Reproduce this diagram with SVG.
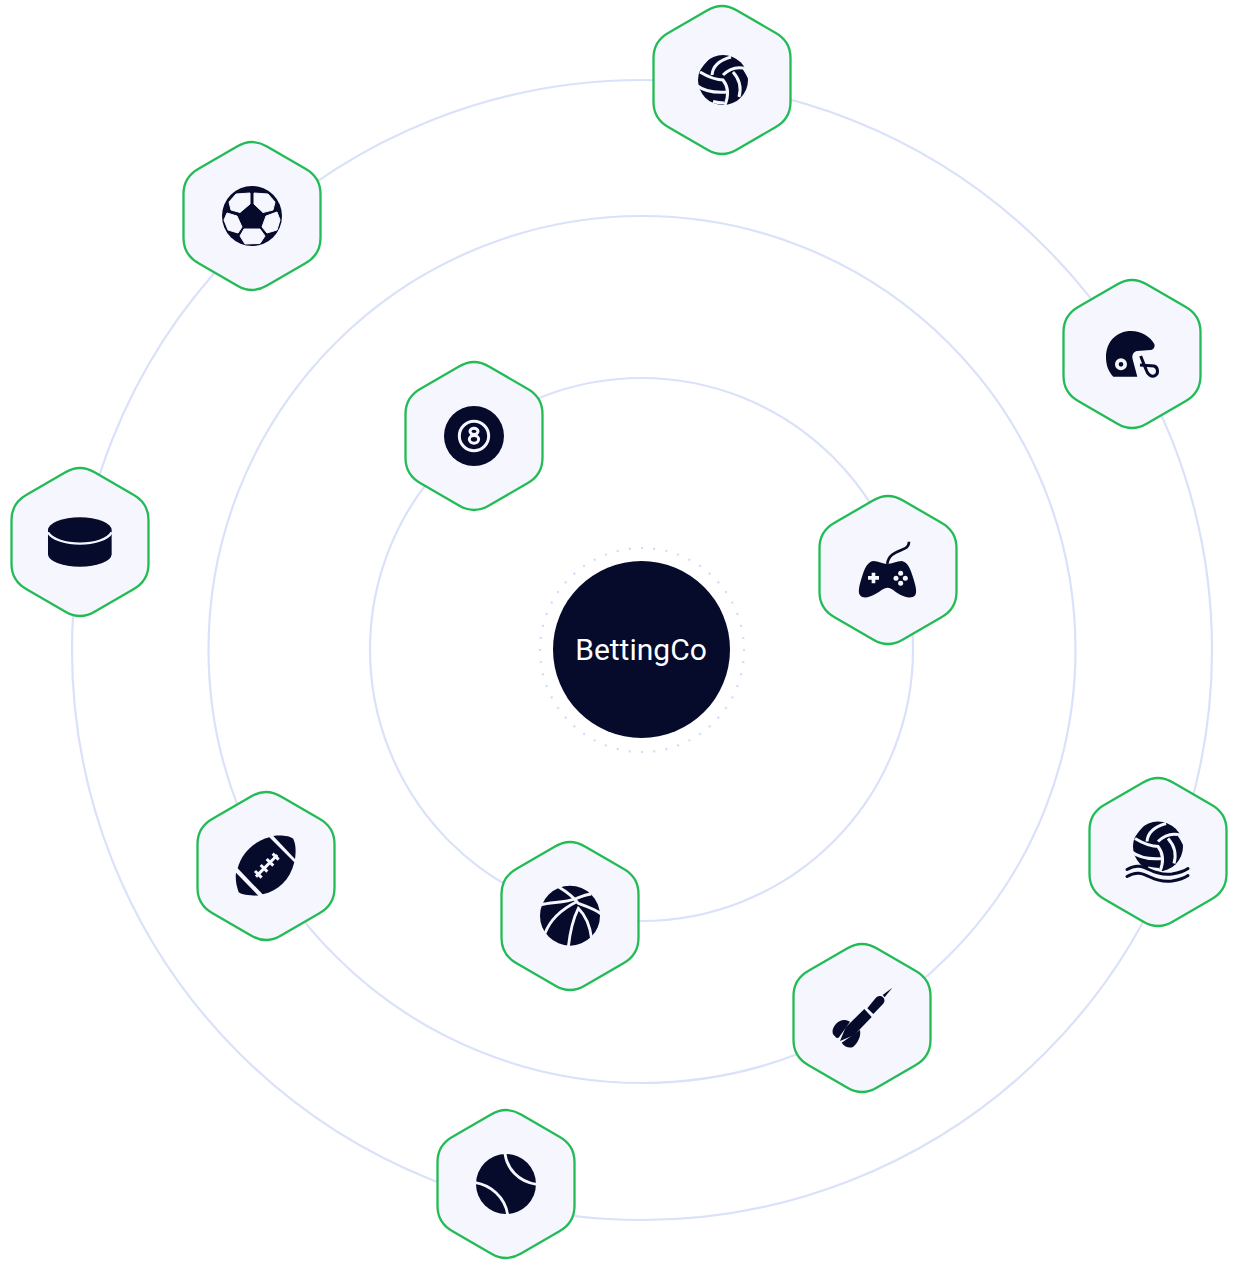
<svg xmlns="http://www.w3.org/2000/svg" width="1238" height="1264" viewBox="0 0 1238 1264">
<style>
.ring{fill:none;stroke:#dae2fa;stroke-width:2.200}
.hex{fill:#f5f6fe;stroke:#22bb55;stroke-width:2.300}
.ink{fill:#060a2b}
.seam{fill:none;stroke:#f5f6fe;stroke-linecap:butt}
.label{font-family:Roboto,"Liberation Sans",sans-serif;font-size:30px;fill:#fff;text-anchor:middle}
</style>
<defs>
<path id="hexagon" class="hex" d="M-15,-69.5Q0,-78.5 15,-69.5L53,-47.5Q68.5,-39 68.5,-22L68.5,22Q68.5,39 53,47.5L15,69.5Q0,78.5 -15,69.5L-53,47.5Q-68.5,39 -68.5,22L-68.5,-22Q-68.5,-39 -53,-47.5Z"/>
<g id="vball">
<circle class="ink" r="25"/>
<g class="seam" stroke-width="3">
<path d="M-14,-23Q-20,-17 -26,-8"/>
<path d="M-23,-8Q-10,0 1,0"/>
<path d="M-11,-5Q-10,-18 8,-23"/>
<path d="M0,-5Q9,-14 20,-12"/>
<path d="M0,0Q8,10 2,25"/>
<path d="M10,-8Q20,3 16,17"/>
<path d="M-27,5Q-15,14 5,12"/>
<path d="M-10,21.500Q-4,23 1,23"/>
<path d="M20,-13Q24,-7 26,-3"/>
</g>
</g>
</defs>

<g id="connectors">
<circle class="ring" cx="641.5" cy="649.5" r="271.5"/>
<circle class="ring" cx="642" cy="649.5" r="433.5"/>
<circle class="ring" cx="642" cy="650" r="570"/>
</g>

<g id="center">
<circle cx="642" cy="650" r="102" fill="none" stroke="#d3dcf9" stroke-width="2.200" pathLength="52" stroke-dasharray="0.17 0.83" stroke-dashoffset="0.085"/>
<circle class="ink" cx="641.5" cy="649.5" r="88.500"/>
<text class="label" x="641" y="660">BettingCo</text>
</g>

<g id="node-volleyball" transform="translate(722,80)">
<use href="#hexagon"/>
<use href="#vball" x="1"/>
</g>

<g id="node-soccer" transform="translate(252,216)">
<use href="#hexagon"/>
<circle class="ink" r="30"/>
<g fill="#f5f6fe" stroke="#f5f6fe" stroke-width="1" stroke-linejoin="round">
<path d="M-23,-14L-16,-22L-2,-23L-2,-12L-12,-3.500L-21,-6Z"/>
<path d="M2,-23L16,-22L23,-14L21,-6L11,-3.500L2,-12Z"/>
<path d="M-25,-3L-15,0L-10,11L-14,17L-24,14L-28,4Z"/>
<path d="M14,0L25,-4L28,4L25,14L15,17L10,11Z"/>
<path d="M-8,13L8,13L13,20L8,27.500L-7,28L-12,20Z"/>
</g>
</g>

<g id="node-helmet" transform="translate(1132,354)">
<use href="#hexagon"/>
<g transform="translate(-82,-84) scale(.3333)">
<path class="ink" d="M190,320C175,305 168,285 168,262C168,215 200,183 243,183C275,183 300,200 313,222C316,232 310,240 300,240L262,243C250,245 245,255 248,268L262,320Z"/>
<circle cx="213" cy="283" r="12.500" fill="none" stroke="#f5f6fe" stroke-width="11"/>
<path d="M272,258L288,298C293,315 305,322 315,317C326,311 325,292 312,288L270,285" fill="none" stroke="#060a2b" stroke-width="9"/>
</g>
</g>

<g id="node-eightball" transform="translate(474,436)">
<use href="#hexagon"/>
<g transform="translate(-74,-81) scale(.3333)">
<circle class="ink" cx="222" cy="243" r="90"/>
<circle cx="222" cy="243" r="44" fill="none" stroke="#f5f6fe" stroke-width="9"/>
<ellipse cx="222" cy="229" rx="12" ry="9.500" fill="none" stroke="#f5f6fe" stroke-width="9"/>
<ellipse cx="222" cy="253" rx="14" ry="11.500" fill="none" stroke="#f5f6fe" stroke-width="9"/>
</g>
</g>

<g id="node-gamepad" transform="translate(888,570)">
<use href="#hexagon"/>
<g transform="translate(-78,-80) scale(.3333)">
<path d="M232,222C235,190 265,185 285,175C295,170 297,165 297,155" fill="none" stroke="#060a2b" stroke-width="8"/>
<path class="ink" d="M190,213C205,213 218,222 232,222C246,222 260,213 275,213C295,216 302,240 310,265C316,285 322,305 316,315C305,328 285,322 268,313C255,305 245,293 233,293C220,293 210,305 195,313C178,322 160,328 150,316C142,305 150,280 156,260C164,235 172,216 190,213Z"/>
<path fill="#f5f6fe" d="M185,248h11v10h11v11h-11v11h-11v-11h-11v-11h11z"/>
<g fill="#f5f6fe"><circle cx="272" cy="250" r="7.500"/><circle cx="258" cy="265" r="7.500"/><circle cx="286" cy="265" r="7.500"/><circle cx="272" cy="280" r="7.500"/></g>
</g>
</g>

<g id="node-puck" transform="translate(80,542)">
<use href="#hexagon"/>
<g transform="translate(-80,-82) scale(.3333)">
<path class="ink" d="M144,210A95.500,38 0 0 1 335,210L335,283A95.500,37 0 0 1 144,283Z"/>
<path d="M144,217C170,262 310,262 335,217" fill="none" stroke="#f5f6fe" stroke-width="7"/>
</g>
</g>

<g id="node-waterpolo" transform="translate(1158,852)">
<use href="#hexagon"/>
<use href="#vball" y="-5.500"/>
<path fill="#f5f6fe" d="M-33,18C-24,13 -16,14 -8,18C0,22 6,23 14,22C20,21 25,20 32,17L32,34L-33,34Z"/>
<g fill="none" stroke="#060a2b" stroke-width="3" stroke-linecap="round">
<path d="M-31,17.500C-22,12 -16,14 -8,18C0,22 6,23 14,22C20,21 25,20 30,16.500"/>
<path d="M-31,24.500C-22,19 -16,21 -8,25C0,29 6,30 14,29C20,28 25,27 30,23.500"/>
</g>
</g>

<g id="node-football" transform="translate(266,866)">
<use href="#hexagon"/>
<g transform="translate(-76,-81) scale(.3333)">
<path class="ink" d="M238,157C190,170 155,205 143,250L218,328C265,318 300,285 313,232Z"/>
<path class="ink" d="M250,153C275,150 300,153 310,162C318,180 318,200 315,222Z"/>
<path class="ink" d="M138,263L205,332C180,332 155,330 146,322C138,300 136,280 138,263Z"/>
<g fill="none" stroke="#f5f6fe" stroke-width="9">
<path d="M198,275L262,210"/>
<path d="M195,258L215,278M212,240L232,260M230,222L250,242M248,206L266,224"/>
</g>
</g>
</g>

<g id="node-basketball" transform="translate(570,916)">
<use href="#hexagon"/>
<g transform="translate(-75,-81) scale(.3333)">
<circle class="ink" cx="225" cy="242" r="90"/>
<g class="seam" stroke-width="8.500">
<path d="M136,210C170,200 205,205 245,190C262,183 275,178 289,177"/>
<path d="M190,155C215,170 235,185 250,205C270,212 305,225 320,238"/>
<path d="M150,295C165,255 195,225 245,200"/>
<path d="M220,336C225,290 235,250 250,220C270,240 285,270 290,312"/>
</g>
</g>
</g>

<g id="node-darts" transform="translate(862,1018)">
<use href="#hexagon"/>
<g transform="translate(-77,-78) scale(.3333)">
<path class="ink" d="M322,143L293,165L299,172Z"/>
<path class="ink" d="M247,205L272,174C278,166 288,166 294,172C300,178 300,186 294,192L265,222Z"/>
<path class="ink" d="M238,207L260,231L208,285L165,303L182,262Z"/>
<path class="ink" d="M165,243C175,238 185,240 195,245L162,292Q158,296 154,293L146,285C136,272 150,250 165,243Z"/>
<path class="ink" d="M225,270C228,285 222,305 205,320C195,326 180,322 170,308Z"/>
</g>
</g>

<g id="node-tennis" transform="translate(506,1184)">
<use href="#hexagon"/>
<g transform="translate(-76,-79) scale(.3333)">
<circle class="ink" cx="228" cy="237" r="90"/>
<g class="seam" stroke-width="8.500">
<path d="M225,145C230,190 265,230 320,238"/>
<path d="M136,233C180,240 225,275 233,329"/>
</g>
</g>
</g>
</svg>
